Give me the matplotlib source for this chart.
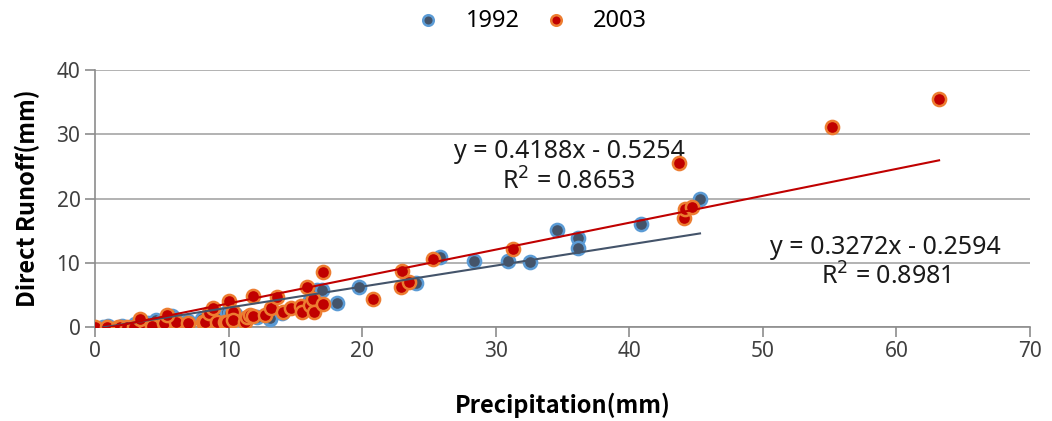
import matplotlib
matplotlib.use("Agg")
import matplotlib.pyplot as plt
import numpy as np

plt.rcParams['font.family'] = ['Noto Sans', 'DejaVu Sans']

# 1992 events
x1992 = [0.6, 1.0, 2.0, 3.0, 4.0, 4.6, 5.0, 5.8, 6.0, 7.0, 8.0, 9.0, 9.9, 10.1, 10.5,
         11.0, 12.1, 13.1, 13.1, 14.0, 16.1, 16.6, 17.0, 18.1, 19.8, 24.0, 25.8, 28.4,
         30.9, 32.6, 34.6, 36.2, 36.2, 40.9, 45.3]
y1992 = [0.05, 0.1, 0.2, 0.4, 0.6, 1.1, 0.9, 1.7, 1.2, 1.0, 1.3, 1.6, 2.3, 2.1, 2.0,
         1.3, 1.5, 1.2, 1.4, 2.2, 4.2, 5.8, 5.7, 3.7, 6.2, 6.8, 10.9, 10.3,
         10.3, 10.1, 15.1, 13.9, 12.3, 16.0, 19.9]

# 2003 events
x2003 = [0.0, 0.9, 1.7, 1.9, 2.4, 2.9, 3.8, 4.3, 5.2, 6.1, 7.0, 3.4, 5.4, 8.1, 8.2, 8.5,
         9.1, 9.7, 9.9, 8.8, 10.0, 10.3, 10.3, 11.2, 11.4, 11.6, 11.8, 11.8, 12.7, 13.2,
         13.6, 14.1, 14.7, 15.4, 15.5, 15.9, 16.1, 16.3, 16.4, 17.1, 17.1, 20.8, 22.9,
         23.0, 23.5, 25.3, 31.3, 43.7, 44.1, 44.2, 44.7, 55.2, 63.2]
y2003 = [0.0, 0.0, 0.0, 0.0, 0.05, 0.05, 0.1, 0.1, 0.6, 0.8, 0.6, 1.3, 1.9, 0.8, 0.7, 2.2,
         0.8, 0.8, 0.8, 3.0, 4.0, 2.3, 1.1, 0.8, 1.5, 1.9, 1.7, 4.8, 1.9, 3.0,
         4.7, 2.4, 3.0, 3.2, 2.4, 6.3, 3.4, 4.3, 2.3, 3.6, 8.6, 4.4, 6.3,
         8.7, 7.0, 10.6, 12.1, 25.5, 17.0, 18.3, 18.7, 31.1, 35.5]

# trendline coefficients (slope, intercept) from the chart labels
fit1992 = (0.3272, -0.2594)
fit2003 = (0.4188, -0.5254)
trend_start = 0.6

fig = plt.figure(figsize=(10.52, 4.21), dpi=100)
ax = fig.add_axes([0.0903, 0.2233, 0.8887, 0.6104])

ax.scatter(x1992, y1992, s=90, facecolor='#44546A', edgecolor='#5B9BD5',
           linewidth=1.8, zorder=3, label='1992')
ax.scatter(x2003, y2003, s=90, facecolor='#C00000', edgecolor='#ED7D31',
           linewidth=1.8, zorder=4, label='2003')

xt = np.array([trend_start, max(x1992)])
ax.plot(xt, fit1992[0] * xt + fit1992[1], color='#44546A', lw=1.5, zorder=5)
xt = np.array([trend_start, max(x2003)])
ax.plot(xt, fit2003[0] * xt + fit2003[1], color='#C00000', lw=1.5, zorder=5)

ax.text(35.5, 24.8, 'y = 0.4188x - 0.5254\nR$^2$ = 0.8653', ha='center', va='center',
        fontsize=18, linespacing=1.2, color='#1a1a1a')
ax.text(59.2, 10.0, 'y = 0.3272x - 0.2594\nR$^2$ = 0.8981', ha='center', va='center',
        fontsize=18, linespacing=1.2, color='#1a1a1a')

ax.set_xlim(0, 70)
ax.set_ylim(0, 40)
ax.set_xticks(range(0, 71, 10))
ax.set_yticks(range(0, 41, 10))
ax.yaxis.grid(True, color='#A6A6A6', lw=1.2)
ax.set_axisbelow(True)
for s in ['top', 'right']:
    ax.spines[s].set_visible(False)
for s in ['left', 'bottom']:
    ax.spines[s].set_color('#8C8C8C')
    ax.spines[s].set_linewidth(1.2)
ax.tick_params(axis='both', colors='#8C8C8C', length=7, width=1.2, labelsize=15,
               labelcolor='#404040')
ax.tick_params(axis='x', pad=3)

lab_font = ['Noto Sans CJK SC', 'DejaVu Sans']
ax.set_xlabel('Precipitation(mm)', fontsize=17, fontweight='bold', family=lab_font,
              labelpad=22)
ax.set_ylabel('Direct Runoff(mm)', fontsize=17, fontweight='bold', family=lab_font,
              labelpad=12)

fig.legend(loc='upper center', bbox_to_anchor=(0.5, 1.03), ncol=2, frameon=False,
           fontsize=17, handletextpad=0.6, columnspacing=0.5, markerscale=0.8)

fig.savefig('out.png', dpi=100)
